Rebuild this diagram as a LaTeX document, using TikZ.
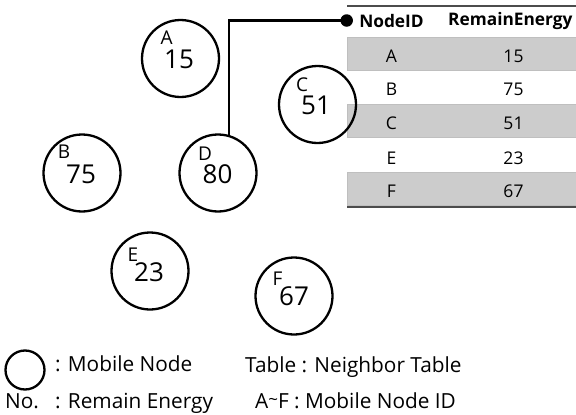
\documentclass[tikz,border=0pt]{standalone}
\usepackage{fontspec}
\setmainfont{Open Sans}
\begin{document}
\begin{tikzpicture}[x=1pt,y=-1pt,
  mnode/.style={circle,draw,line width=2.3pt,minimum size=77pt,inner sep=0pt},
  idtxt/.style={inner sep=0pt,font=\fontsize{19}{21}\selectfont},
  entxt/.style={inner sep=0pt,font=\fontsize{26}{28}\selectfont},
  cell/.style={inner sep=0pt,font=\fontsize{17.5}{19}\selectfont},
  head/.style={inner sep=0pt,font=\bfseries\fontsize{17.3}{19}\selectfont},
  legend/.style={inner sep=0pt,anchor=base west,font=\fontsize{20.8}{23}\selectfont},
  graycell/.style={fill=black!20,draw=black!25,line width=0.6pt},
  rule/.style={draw=black!70,line width=1.6pt},
  hub/.style={circle,fill=black,inner sep=0pt,minimum size=12.5pt},
  link/.style={line width=2.6pt}]
\useasboundingbox (0,0) rectangle (576,415);
\clip (0,0) rectangle (576,415);

% neighbour table
\fill[graycell] (347,37.3) rectangle (580,70.7);
\fill[graycell] (347,104.3) rectangle (580,137.7);
\fill[graycell] (347,172.3) rectangle (580,205.7);
\draw[rule] (347,5.7) -- (580,5.7);
\draw[rule] (347,207.2) -- (580,207.2);
\node[head] (hID) at (391.5,21.5) {NodeID};
\node[head,anchor=west] (hRE) at (448,21.5) {RemainEnergy};
\node[cell] (tA) at (391.5,56.3) {A};  \node[cell] (vA) at (513.5,56.3) {15};
\node[cell] (tB) at (391.5,89.7) {B};  \node[cell] (vB) at (513.5,89.7) {75};
\node[cell] (tC) at (391.5,123.3) {C}; \node[cell] (vC) at (513.5,123.3) {51};
\node[cell] (tE) at (391.5,157.8) {E}; \node[cell] (vE) at (513.5,157.8) {23};
\node[cell] (tF) at (391.5,190.8) {F}; \node[cell] (vF) at (513.5,190.8) {67};

% mobile nodes
\node[mnode] (A) at (180.5,58.5) {};
\node[idtxt] (A-id) at (166.7,38) {A};
\node[entxt] (A-en) at (179,59) {15};

\node[mnode] (B) at (82,173) {};
\node[idtxt] (B-id) at (64,152) {B};
\node[entxt] (B-en) at (81,174) {75};

\node[mnode] (C) at (317.5,104.5) {};
\node[idtxt] (C-id) at (302,84.5) {C};
\node[entxt] (C-en) at (316,105.5) {51};

\node[mnode] (D) at (218,173) {};
\node[idtxt] (D-id) at (205,154) {D};
\node[entxt] (D-en) at (217.5,174) {80};

\node[mnode] (E) at (150,271) {};
\node[idtxt] (E-id) at (133,255) {E};
\node[entxt] (E-en) at (149,272) {23};

\node[mnode] (F) at (294,296) {};
\node[idtxt] (F-id) at (277.5,278.5) {F};
\node[entxt] (F-en) at (294,296) {67};

% link from node D to its table
\node[hub] (dot) at (346.7,20.5) {};
\draw[link] (D.74) |- (dot.center);

% legend
\node[circle,draw,line width=2.3pt,minimum size=39pt,inner sep=0pt] (lg) at (25,370) {};
\node[legend] (l1) at (55,371.7) {: Mobile Node};
\node[legend] (l2) at (245,372) {Table : Neighbor Table};
\node[legend] (l3) at (5,408) {No.};
\node[legend] (l4) at (55,408) {: Remain Energy};
\node[legend] (l5) at (255,408) {A\raisebox{0.12em}{\fontsize{17}{17}\selectfont\textasciitilde}F : Mobile Node ID};
\end{tikzpicture}
\end{document}
